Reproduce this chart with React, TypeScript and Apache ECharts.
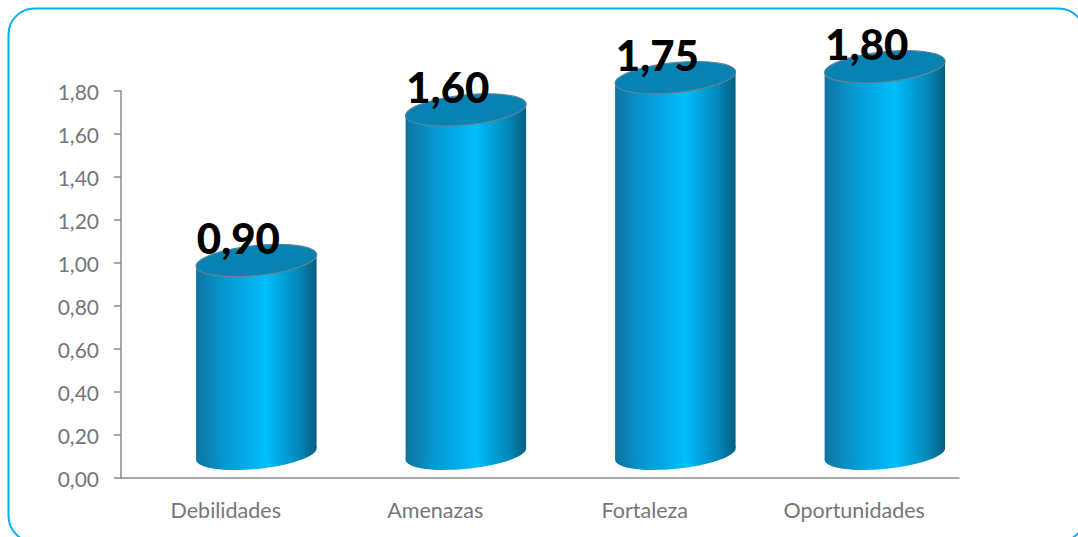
import React, { useEffect, useRef } from "react";
import * as echarts from "echarts";

const categories = ["Debilidades", "Amenazas", "Fortaleza", "Oportunidades"];
const values = [0.9, 1.6, 1.75, 1.8];
const yMin = 0;
const yMax = 1.8;
const yInterval = 0.2;

const fmt = (v: number) => v.toFixed(2).replace(".", ",");

export default function App() {
  const ref = useRef<HTMLDivElement>(null);
  useEffect(() => {
    document.body.style.margin = "0";
    const chart = echarts.init(ref.current!, undefined, { renderer: "svg" });
    const bodyGrad = () =>
      new echarts.graphic.LinearGradient(0, 0, 1, 0, [
        { offset: 0, color: "#0d74a0" },
        { offset: 0.25, color: "#069ad4" },
        { offset: 0.58, color: "#00bdfb" },
        { offset: 0.85, color: "#0388b8" },
        { offset: 1, color: "#045f82" },
      ]);
    const option: any = {
      animation: false,
      grid: { left: 121, right: 119, top: 91, bottom: 59 },
      graphic: [
        {
          type: "rect",
          shape: { x: 8.5, y: 8.5, width: 1076, height: 533.5, r: 26 },
          style: { stroke: "#00b0f0", lineWidth: 2, fill: "none" },
          silent: true,
          z: -1,
        },
      ],
      xAxis: {
        type: "category",
        data: categories,
        axisLine: { show: true, lineStyle: { color: "#8c8c8c", width: 1.5 } },
        axisTick: { show: false },
        axisLabel: {
          color: "#767676",
          fontFamily: "Lato",
          fontSize: 21.5,
          margin: 21,
        },
      },
      yAxis: {
        type: "value",
        min: yMin,
        max: yMax,
        interval: yInterval,
        axisLine: { show: true, lineStyle: { color: "#8c8c8c", width: 1.5 } },
        axisTick: { show: true, length: 7, lineStyle: { color: "#8c8c8c", width: 1.5 } },
        splitLine: { show: false },
        axisLabel: {
          color: "#767676",
          fontFamily: "Lato",
          fontSize: 21,
          margin: 22,
          formatter: (v: number) => fmt(v),
        },
      },
      series: [
        {
          type: "custom",
          data: values.map((v, i) => [i, v]),
          renderItem: (params: any, api: any) => {
            const idx = api.value(0);
            const val = api.value(1);
            const top = api.coord([idx, val]);
            const base = api.coord([idx, 0]);
            const band = api.size([1, 0])[0];
            const dx = band * 0.146;
            const dy = 24;
            const rx = band * 0.289;
            const ry = 15;
            const th = 0.1;
            const cx = top[0] + dx;
            const cyT = top[1] - dy;
            const cyB = base[1] - dy;
            const ox = rx * Math.cos(th);
            const oy = rx * Math.sin(th);
            return {
              type: "group",
              children: [
                {
                  type: "ellipse",
                  shape: { cx, cy: cyB, rx, ry },
                  rotation: th,
                  originX: cx,
                  originY: cyB,
                  style: { fill: bodyGrad() },
                },
                {
                  type: "polygon",
                  shape: {
                    points: [
                      [cx - ox, cyT + oy],
                      [cx + ox, cyT - oy],
                      [cx + ox, cyB - oy],
                      [cx - ox, cyB + oy],
                    ],
                  },
                  style: { fill: bodyGrad() },
                },
                {
                  type: "ellipse",
                  shape: { cx, cy: cyT, rx, ry },
                  rotation: th,
                  originX: cx,
                  originY: cyT,
                  style: { fill: "#0782b3", stroke: "#5f8596", lineWidth: 1.2 },
                },
                {
                  type: "text",
                  x: cx - 18,
                  y: cyT - 23,
                  style: {
                    text: fmt(val),
                    fontFamily: "Lato",
                    fontWeight: 900,
                    fontSize: 42,
                    fill: "#000000",
                    align: "center",
                    verticalAlign: "middle",
                  },
                },
              ],
            };
          },
        },
      ],
    };
    chart.setOption(option);
    return () => chart.dispose();
  }, []);
  return <div ref={ref} style={{ width: 1078, height: 537 }} />;
}
